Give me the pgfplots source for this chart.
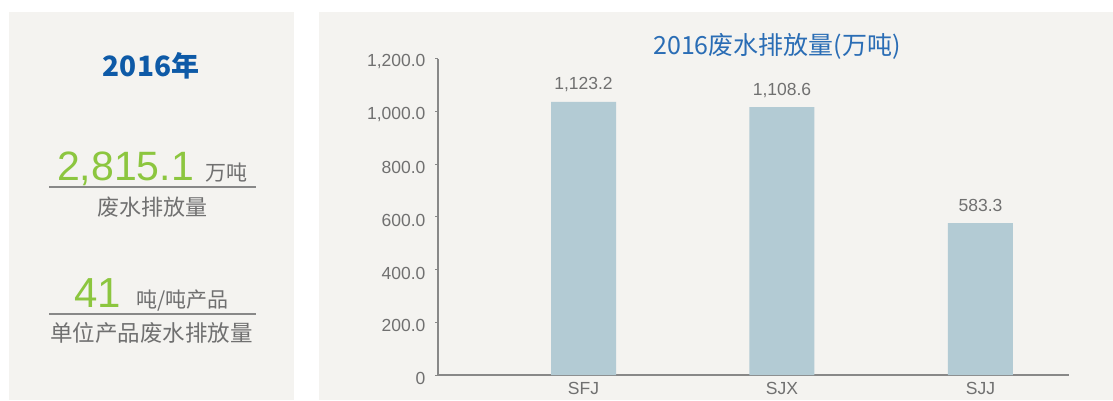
\documentclass[border=0pt]{standalone}
\usepackage{pgfplots}
\pgfplotsset{compat=1.18}
\usepackage{fontspec}
\setmainfont{Liberation Sans}
\newfontfamily\cjk{Noto Sans CJK SC}
\definecolor{panel}{HTML}{F4F3F0}
\definecolor{barc}{HTML}{B3CBD4}
\definecolor{grn}{HTML}{8CC63F}
\definecolor{dblue}{HTML}{0E5AA7}
\definecolor{tblue}{HTML}{2A6DB5}
\definecolor{gtext}{HTML}{707070}
\definecolor{gline}{HTML}{888888}
\begin{document}
\begin{tikzpicture}
\fill[white] (0pt,0pt) rectangle (1113pt,-400pt);
\fill[panel] (9pt,-12pt) rectangle (294pt,-400pt);
\fill[panel] (319pt,-12pt) rectangle (1113pt,-400pt);
% left panel
\node[anchor=base, text=dblue, inner sep=0pt] at (151pt,-76pt) {\cjk\bfseries\fontsize{28}{28}\selectfont 2016年};
\node[anchor=base, inner sep=0pt] at (152.5pt,-180pt) {\textcolor{grn}{\fontsize{41}{41}\selectfont 2,815.1}\hspace{12pt}\textcolor{gtext}{\cjk\fontsize{21}{21}\selectfont 万吨}};
\draw[gline, line width=1.5pt] (49pt,-187pt) -- (256pt,-187pt);
\node[anchor=base, text=gtext, inner sep=0pt] at (152.5pt,-215.5pt) {\cjk\fontsize{22}{22}\selectfont 废水排放量};
\node[anchor=base, inner sep=0pt] at (151.5pt,-307pt) {\textcolor{grn}{\fontsize{42}{42}\selectfont 41}\hspace{15pt}\textcolor{gtext}{\cjk\fontsize{21}{21}\selectfont 吨/吨产品}};
\draw[gline, line width=1.5pt] (49pt,-314pt) -- (256pt,-314pt);
\node[anchor=base, text=gtext, inner sep=0pt] at (151.5pt,-341.5pt) {\cjk\fontsize{22.5}{22.5}\selectfont 单位产品废水排放量};
% title
\node[anchor=base, text=tblue, inner sep=0pt] at (777pt,-54pt) {\cjk\fontsize{25}{25}\selectfont 2016废水排放量(万吨)};
\begin{axis}[
  at={(438pt,-375pt)}, anchor=south west,
  scale only axis, width=631pt, height=316.5pt,
  xmin=-0.733, xmax=2.446, ymin=0, ymax=1200,
  axis lines=left, axis line style={-, gline, line width=1.2pt},
  xtick={0,1,2}, xticklabels={SFJ,SJX,SJJ},
  ytick={0,200,400,600,800,1000,1200},
  yticklabels={0,200.0,400.0,600.0,800.0,{1,000.0},{1,200.0}},
  /pgf/number format/assume math mode=true,
  x tick style={draw=none},
  y tick style={gline, line width=1pt},
  tick align=outside, major tick length=3pt,
  tick label style={font=\fontsize{17.5}{17.5}\selectfont, text=gtext},
  yticklabel style={yshift=-3.5pt, xshift=-6pt},
  xticklabel style={yshift=-1pt},
  ybar, bar width=65pt,
  point meta=explicit symbolic,
  nodes near coords,
  every node near coord/.append style={font=\fontsize{17.5}{17.5}\selectfont, text=gtext, anchor=base, yshift=12pt},
  clip=false,
]
\addplot[fill=barc, draw=none] table[x=x, y=y, meta=lab] {
x y lab
0 1036 1,123.2
1 1016 1,108.6
2 576 583.3
};
\end{axis}
\pgfresetboundingbox
\useasboundingbox (0pt,0pt) rectangle (1113pt,-400pt);
\end{tikzpicture}
\end{document}
